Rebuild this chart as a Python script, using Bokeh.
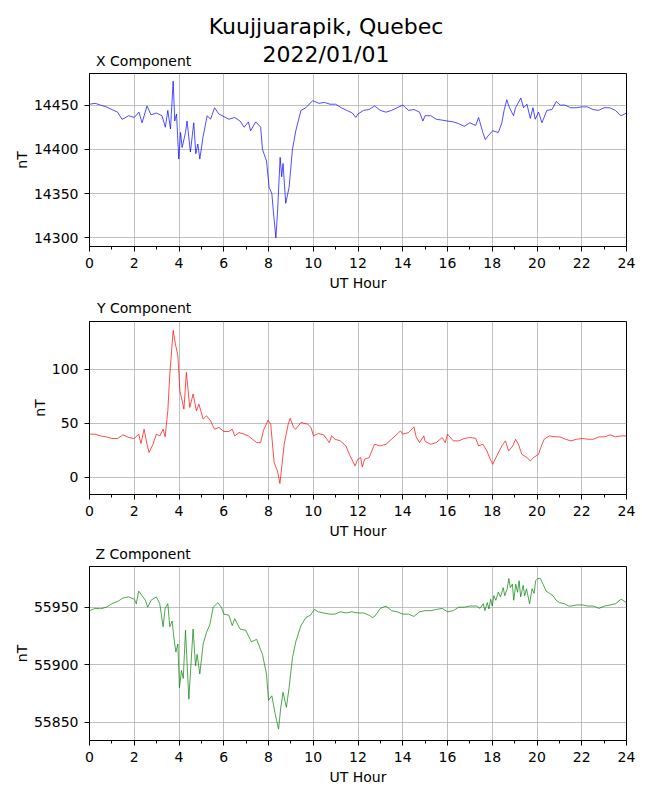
from bokeh.plotting import figure
from bokeh.models import Range1d, FixedTicker
from bokeh.layouts import column
from bokeh.core.properties import value
from bokeh.embed import file_html
from bokeh.resources import INLINE

FONT = "DejaVu Sans"
FRAME_LEFT = 89
FRAME_W = 537
RIGHT_BORDER = 24

MAIN_TITLE = ["Kuujjuarapik, Quebec", "2022/01/01"]
PANEL_TITLES = ["X Component", "Y Component", "Z Component"]
X_LABEL = "UT Hour"
Y_LABEL = "nT"
X_TICKS = list(range(0, 25, 2))
X_MINOR = list(range(1, 24, 2))

# ---- X component ----
x_hours = [0.0, 0.25, 0.49, 0.75, 1.0, 1.26, 1.45, 1.55, 1.75, 2.0, 2.21, 2.35, 2.57, 2.75, 2.99,
           3.24, 3.39, 3.5, 3.62, 3.74, 3.81, 3.89, 3.99, 4.07, 4.14, 4.29, 4.36, 4.51, 4.66, 4.75,
           4.84, 4.93, 5.08, 5.26, 5.41, 5.59, 5.78, 6.01, 6.23, 6.49, 6.73, 6.91, 7.1, 7.2, 7.43,
           7.65, 7.73, 7.91, 8.03, 8.15, 8.22, 8.33, 8.4, 8.52, 8.59, 8.65, 8.77, 8.92, 9.07, 9.22,
           9.45, 9.67, 9.97, 10.25, 10.5, 10.75, 11.0, 11.25, 11.5, 11.75, 11.9, 12.0, 12.25, 12.5,
           12.74, 13.0, 13.25, 13.5, 13.75, 14.0, 14.26, 14.5, 14.75, 14.9, 15.0, 15.25, 15.5, 15.76,
           16.0, 16.26, 16.5, 16.75, 17.0, 17.26, 17.39, 17.58, 17.69, 17.84, 18.02, 18.27, 18.43,
           18.53, 18.65, 18.77, 18.95, 19.04, 19.28, 19.4, 19.55, 19.7, 19.82, 19.92, 20.07, 20.22,
           20.44, 20.67, 20.86, 21.04, 21.25, 21.5, 21.75, 22.0, 22.25, 22.5, 22.75, 23.0, 23.25,
           23.5, 23.75, 24.0]
x_values = [14451, 14452, 14450, 14448, 14445, 14442, 14434, 14435, 14438, 14436, 14442, 14430, 14449,
            14439, 14441, 14438, 14425, 14444, 14423, 14477, 14432, 14440, 14389, 14419, 14402, 14419,
            14432, 14397, 14430, 14395, 14406, 14389, 14415, 14438, 14434, 14447, 14440, 14437, 14434,
            14436, 14432, 14425, 14431, 14421, 14431, 14425, 14400, 14387, 14357, 14350, 14329, 14300,
            14327, 14391, 14369, 14384, 14339, 14357, 14400, 14421, 14444, 14447, 14455, 14452, 14453,
            14451, 14451, 14447, 14444, 14441, 14436, 14440, 14444, 14445, 14449, 14444, 14442, 14444,
            14447, 14450, 14444, 14445, 14442, 14432, 14438, 14438, 14434, 14433, 14432, 14431, 14429,
            14426, 14430, 14427, 14436, 14419, 14411, 14416, 14421, 14419, 14430, 14444, 14456, 14447,
            14438, 14447, 14458, 14447, 14451, 14435, 14447, 14434, 14442, 14430, 14444, 14445, 14454,
            14450, 14450, 14447, 14447, 14448, 14448, 14445, 14444, 14447, 14447, 14444, 14438, 14441]
x_range_vals = (14290.2, 14485.7)
x_yticks = [14300, 14350, 14400, 14450]

# ---- Y component ----
y_hours = [0.0, 0.25, 0.49, 0.75, 1.0, 1.26, 1.5, 1.75, 2.0, 2.2, 2.3, 2.44, 2.57, 2.66, 2.84, 2.99,
           3.14, 3.29, 3.38, 3.5, 3.59, 3.74, 3.84, 3.95, 4.04, 4.22, 4.33, 4.48, 4.63, 4.78, 4.89,
           5.08, 5.23, 5.41, 5.59, 5.78, 6.01, 6.23, 6.38, 6.49, 6.68, 6.91, 7.1, 7.28, 7.47, 7.65,
           7.77, 7.98, 8.1, 8.25, 8.4, 8.51, 8.59, 8.7, 8.88, 8.97, 9.12, 9.22, 9.45, 9.75, 9.9,
           10.01, 10.22, 10.46, 10.72, 10.82, 10.97, 11.21, 11.46, 11.61, 11.87, 11.99, 12.12, 12.19,
           12.3, 12.5, 12.56, 12.74, 13.0, 13.25, 13.5, 13.75, 13.9, 14.0, 14.26, 14.5, 14.6, 14.75,
           14.94, 15.0, 15.25, 15.5, 15.76, 15.9, 16.0, 16.26, 16.5, 16.75, 17.0, 17.26, 17.39, 17.58,
           17.76, 17.91, 18.02, 18.21, 18.43, 18.59, 18.73, 18.92, 19.04, 19.17, 19.32, 19.55, 19.7,
           19.84, 20.07, 20.17, 20.32, 20.55, 20.81, 21.03, 21.27, 21.52, 21.77, 22.03, 22.28, 22.52,
           22.77, 23.02, 23.27, 23.51, 23.76, 24.0]
y_values = [39.8, 39.8, 38.2, 37.3, 35.8, 35.8, 39.2, 36.7, 35.8, 39.8, 31.1, 44.4, 30.5, 22.8, 30.5,
            39.8, 38.2, 44.4, 37.3, 61.5, 95.5, 136.0, 123.4, 112.5, 80.0, 63.0, 97.0, 64.6, 77.0, 61.5,
            67.6, 53.7, 56.8, 52.2, 44.4, 46.0, 42.3, 42.3, 44.4, 38.2, 41.3, 39.8, 38.2, 35.1, 32.0,
            32.0, 42.9, 52.8, 49.0, 13.5, 5.7, -6.0, 8.8, 30.5, 49.0, 54.6, 46.0, 44.4, 50.6, 49.0,
            46.0, 38.2, 40.4, 39.2, 32.0, 38.2, 35.1, 33.6, 28.9, 21.2, 10.4, 16.6, 18.1, 9.4, 16.6,
            18.1, 21.2, 30.5, 28.9, 30.5, 35.1, 39.8, 42.9, 39.8, 41.3, 46.6, 37.3, 32.0, 38.2, 33.0,
            30.5, 32.0, 36.7, 32.0, 39.8, 33.6, 33.6, 35.8, 36.7, 36.0, 28.9, 30.5, 24.3, 16.6, 11.9,
            20.0, 28.9, 33.6, 24.3, 28.9, 35.1, 30.5, 21.2, 18.1, 15.0, 18.1, 21.2, 27.4, 35.1, 38.2,
            37.3, 37.3, 35.1, 33.6, 35.1, 35.8, 35.1, 35.1, 37.3, 37.3, 39.2, 37.3, 38.2, 38.2]
y_range_vals = (-16.1, 144.2)
y_yticks = [0, 50, 100]

# ---- Z component ----
z_hours = [0.0, 0.25, 0.49, 0.75, 1.0, 1.26, 1.5, 1.75, 2.0, 2.09, 2.2, 2.35, 2.5, 2.6, 2.75, 2.99,
           3.14, 3.29, 3.38, 3.5, 3.59, 3.69, 3.77, 3.86, 3.95, 4.02, 4.11, 4.19, 4.29, 4.44, 4.63,
           4.74, 4.81, 4.93, 5.08, 5.23, 5.38, 5.53, 5.74, 5.89, 6.01, 6.23, 6.38, 6.49, 6.73, 6.98,
           7.23, 7.47, 7.73, 7.91, 8.0, 8.15, 8.3, 8.45, 8.55, 8.65, 8.8, 8.92, 9.07, 9.22, 9.45,
           9.67, 9.87, 10.05, 10.22, 10.46, 10.72, 10.97, 11.21, 11.46, 11.72, 12.0, 12.25, 12.5,
           12.64, 12.74, 13.0, 13.25, 13.5, 13.75, 14.0, 14.26, 14.5, 14.75, 15.0, 15.25, 15.5, 15.76,
           16.0, 16.26, 16.5, 16.75, 17.0,
           17.3, 17.45, 17.6, 17.67, 17.78, 17.85, 17.93, 18.0, 18.07, 18.16, 18.27, 18.37, 18.49,
           18.56, 18.67, 18.74, 18.81, 18.9, 18.96, 19.05, 19.13, 19.2, 19.27, 19.38, 19.45, 19.53,
           19.67, 19.78, 19.87, 19.94, 20.04, 20.15, 20.27, 20.41, 20.56, 20.71, 20.86, 21.0, 21.23,
           21.42, 21.52, 21.77, 22.03, 22.28, 22.52, 22.77, 23.02, 23.27, 23.51, 23.76, 24.0]
z_values = [55947, 55949, 55948.6, 55950, 55953, 55955, 55958, 55959, 55957, 55953, 55964, 55960,
            55956, 55950, 55956, 55959, 55953, 55933, 55949, 55953, 55933, 55938, 55924, 55911, 55918,
            55880, 55895, 55888, 55930, 55870, 55931, 55899, 55909, 55892, 55918, 55928, 55935, 55950,
            55954, 55950, 55944, 55943, 55934, 55940, 55931, 55930, 55920, 55922, 55909, 55892, 55869,
            55873, 55857, 55844, 55863, 55876, 55863, 55880, 55906, 55920, 55934, 55941, 55943, 55948,
            55946, 55945, 55944, 55944, 55946, 55945, 55946, 55945, 55945, 55943, 55941, 55942, 55949,
            55951, 55947, 55946, 55944, 55944, 55942, 55946, 55947, 55947, 55948, 55949, 55946, 55947,
            55950, 55950, 55951,
            55951, 55949, 55953, 55947, 55954, 55948.5, 55957, 55951, 55960, 55956, 55963, 55959, 55967,
            55960, 55966, 55975, 55967, 55970, 55956, 55970, 55963, 55973, 55959, 55969, 55960, 55966,
            55953, 55966, 55962, 55973, 55975, 55975, 55970, 55964, 55962, 55960, 55956, 55954, 55953,
            55951, 55951, 55952, 55952, 55951, 55951, 55949, 55951, 55952, 55953, 55957, 55954]
z_range_vals = (55834.1, 55985.4)
z_yticks = [55850, 55900, 55950]


def text_strip(height, items):
    """A borderless strip aligned with the panels; data units are page pixels (y from top)."""
    s = figure(frame_width=FRAME_W, frame_height=height,
               min_border_left=FRAME_LEFT, min_border_right=RIGHT_BORDER,
               min_border_top=0, min_border_bottom=0,
               x_range=Range1d(FRAME_LEFT, FRAME_LEFT + FRAME_W), y_range=Range1d(height, 0),
               x_axis_location=None, y_axis_location=None,
               output_backend="svg", toolbar_location=None, tools="")
    s.grid.visible = False
    s.outline_line_color = None
    s.background_fill_color = "white"
    s.border_fill_color = "white"
    for (tx, ty, txt, size, align) in items:
        s.text(x=[tx], y=[ty], text=[txt], text_font=value(FONT),
               text_font_size=value(size), text_color="black",
               text_align=align, text_baseline="alphabetic")
    return s


def make_panel(hours, values, color, yr, yticks, fh, bottom):
    p = figure(frame_width=FRAME_W, frame_height=fh,
               min_border_left=FRAME_LEFT, min_border_right=RIGHT_BORDER,
               min_border_top=1, min_border_bottom=bottom,
               x_range=Range1d(0, 24), y_range=Range1d(*yr),
               output_backend="svg", toolbar_location=None, tools="")
    p.line(hours, values, line_color=color, line_width=0.7)

    p.xaxis.ticker = FixedTicker(ticks=X_TICKS, minor_ticks=X_MINOR)
    p.yaxis.ticker = FixedTicker(ticks=yticks, minor_ticks=[])
    p.xaxis.axis_label = X_LABEL
    p.yaxis.axis_label = Y_LABEL
    for ax in (p.xaxis, p.yaxis):
        ax.axis_label_text_font = FONT
        ax.axis_label_text_font_size = "14px"
        ax.axis_label_text_font_style = "normal"
        ax.axis_label_text_color = "black"
        ax.major_label_text_font = FONT
        ax.major_label_text_font_size = "14px"
        ax.major_label_text_color = "black"
        ax.axis_line_color = "black"
        ax.major_tick_line_color = "black"
        ax.minor_tick_line_color = "black"
        ax.major_tick_out = 5
        ax.major_tick_in = 0
        ax.minor_tick_out = 3
        ax.minor_tick_in = 0
    p.xaxis.major_label_standoff = 6
    p.xaxis.axis_label_standoff = 4
    p.yaxis.major_label_standoff = 6
    p.yaxis.axis_label_standoff = 1

    p.grid.grid_line_color = "#b0b0b0"
    p.grid.grid_line_width = 0.8
    p.outline_line_color = "black"
    p.outline_line_alpha = 1
    p.outline_line_width = 1
    p.background_fill_color = "white"
    p.border_fill_color = "white"
    return p


header = text_strip(72, [
    (325.5, 26.4, MAIN_TITLE[0], "22px", "center"),
    (325.5, 53.8, MAIN_TITLE[1], "22px", "center"),
    (95.5, 60.3, PANEL_TITLES[0], "14px", "left"),
])
p1 = make_panel(x_hours, x_values, "blue", x_range_vals, x_yticks, 173, 52)
strip2 = text_strip(22, [(96.5, 9.6, PANEL_TITLES[1], "14px", "left")])
p2 = make_panel(y_hours, y_values, "red", y_range_vals, y_yticks, 173, 52)
strip3 = text_strip(19, [(95.0, 7.4, PANEL_TITLES[2], "14px", "left")])
p3 = make_panel(z_hours, z_values, "green", z_range_vals, z_yticks, 174, 50)

layout = column(header, p1, strip2, p2, strip3, p3, spacing=0)
open("out.html", "w").write(file_html(layout, INLINE))
